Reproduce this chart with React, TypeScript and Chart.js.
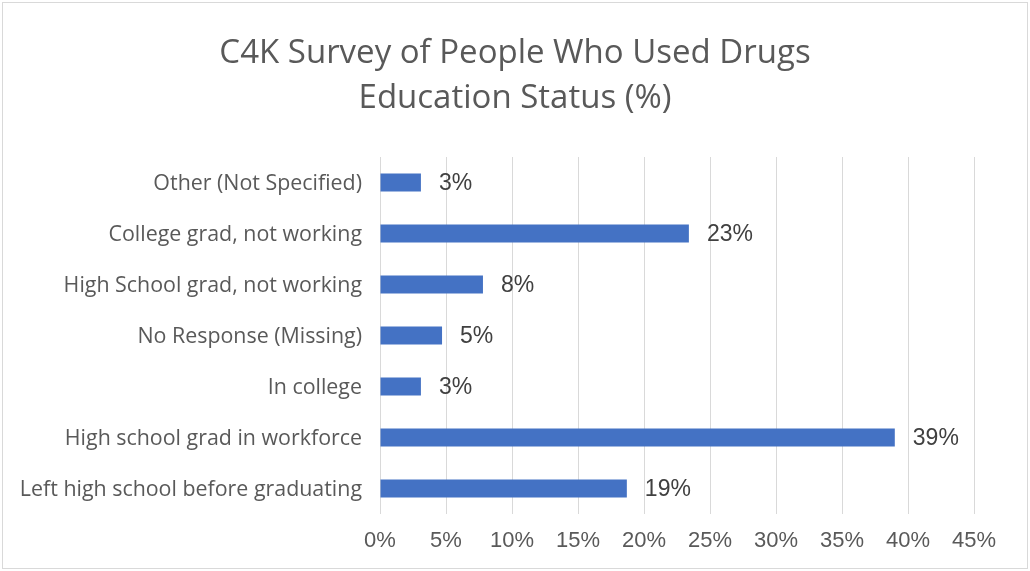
import React, { useEffect, useRef } from "react";
import { Chart, registerables } from "chart.js";

Chart.register(...registerables);

const categories = [
  "Other (Not Specified)",
  "College grad, not working",
  "High School grad, not working",
  "No Response (Missing)",
  "In college",
  "High school grad in workforce",
  "Left high school before graduating",
];
const values = [3.1, 23.4, 7.8, 4.7, 3.1, 39.0, 18.7];
const dataLabels = ["3%", "23%", "8%", "5%", "3%", "39%", "19%"];
const titleLines = ["C4K Survey of People Who Used Drugs", "Education Status (%)"];
const xMax = 45;
const xStep = 5;

const labelPlugin = {
  id: "barValueLabels",
  afterDatasetsDraw(chart: any) {
    const ctx = chart.ctx;
    const meta = chart.getDatasetMeta(0);
    ctx.save();
    ctx.font = "23px 'Liberation Sans', Arial, sans-serif";
    ctx.fillStyle = "#404040";
    ctx.textAlign = "left";
    ctx.textBaseline = "middle";
    meta.data.forEach((bar: any, i: number) => {
      ctx.fillText(dataLabels[i], bar.x + 18, bar.y + 1);
    });
    ctx.restore();
  },
};

const titlePlugin = {
  id: "centeredTitle",
  afterDraw(chart: any) {
    const ctx = chart.ctx;
    ctx.save();
    ctx.font = "33px 'Open Sans', Lato, sans-serif";
    ctx.fillStyle = "#595959";
    ctx.textAlign = "center";
    ctx.textBaseline = "middle";
    const cx = chart.width / 2;
    titleLines.forEach((line, i) => {
      ctx.fillText(line, cx, 54 + i * 45);
    });
    ctx.restore();
  },
};

export default function App() {
  const ref = useRef<HTMLCanvasElement>(null);
  useEffect(() => {
    if (!ref.current) return;
    const chart = new Chart(ref.current, {
      type: "bar",
      data: {
        labels: categories,
        datasets: [
          {
            data: values,
            backgroundColor: "#4472C4",
            borderWidth: 0,
            barPercentage: 0.7,
            categoryPercentage: 0.5,
          },
        ],
      },
      options: {
        indexAxis: "y",
        animation: false,
        responsive: false,
        maintainAspectRatio: false,
        layout: { padding: { top: 157, left: 0, right: 56, bottom: 0 } },
        plugins: {
          legend: { display: false },
          tooltip: { enabled: false },
          title: { display: false },
        },
        scales: {
          x: {
            min: 0,
            max: xMax,
            border: { display: false },
            grid: { color: "#d9d9d9", lineWidth: 1, drawTicks: false },
            ticks: {
              stepSize: xStep,
              color: "#595959",
              padding: 14,
              font: { family: "'Liberation Sans', Arial, sans-serif", size: 22 },
              callback: (v: any) => v + "%",
            },
            afterFit: (scale: any) => {
              scale.height = 57;
            },
          },
          y: {
            border: { display: false },
            grid: { display: false, drawTicks: false },
            ticks: {
              color: "#595959",
              padding: 18,
              labelOffset: 1,
              font: { family: "'Open Sans', Lato, sans-serif", size: 21.4 },
            },
            afterFit: (scale: any) => {
              scale.width = 380;
            },
          },
        },
      },
      plugins: [labelPlugin, titlePlugin],
    });
    return () => chart.destroy();
  }, []);

  return (
    <div style={{ position: "fixed", left: 0, top: 0, width: 1030, height: 571, background: "#fff" }}>
      <div
        style={{
          position: "absolute",
          left: 2,
          top: 2,
          width: 1024,
          height: 565,
          border: "1px solid #d9d9d9",
        }}
      />
      <canvas ref={ref} width={1030} height={571} style={{ position: "absolute", left: 0, top: 0 }} />
    </div>
  );
}
